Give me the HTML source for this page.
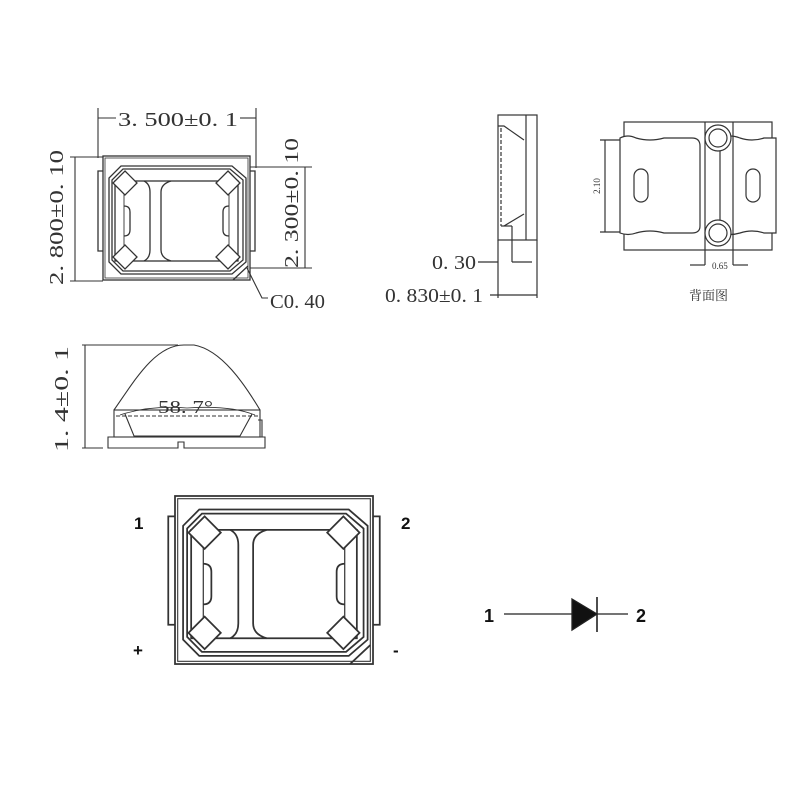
<!DOCTYPE html>
<html><head><meta charset="utf-8"><style>
html,body{margin:0;padding:0;background:#fff;}
svg{display:block}
text{font-family:"Liberation Serif","Noto Serif CJK SC",serif;fill:#333}
.s{font-family:"Liberation Sans",sans-serif;font-weight:bold;fill:#111}
</style></head><body>
<svg width="800" height="800" viewBox="0 0 800 800" xmlns="http://www.w3.org/2000/svg">
<defs>
<g id="pkg" fill="none" stroke="#333" stroke-width="1.3">
  <rect x="0" y="0" width="147" height="124"/>
  <rect x="2" y="2" width="143" height="120" stroke-width="0.8"/>
  <polyline points="0,15 -5,15 -5,95 0,95"/>
  <polyline points="147,15 152,15 152,95 147,95"/>
  <polygon points="18,10 129,10 143,22 143,106 129,118 18,118 6,106 6,22"/>
  <polygon points="20,13 127,13 140,24 140,104 127,115 20,115 9,104 9,24"/>
  <rect x="12" y="25" width="123" height="80"/>
  <line x1="21" y1="28" x2="21" y2="100" stroke-width="0.9"/>
  <line x1="126" y1="28" x2="126" y2="100" stroke-width="0.9"/>
  <g fill="#fff">
    <polygon points="22,15 34,27 22,39 10,27"/>
    <polygon points="125,15 137,27 125,39 113,27"/>
    <polygon points="22,89 34,101 22,113 10,101"/>
    <polygon points="125,89 137,101 125,113 113,101"/>
  </g>
  <path d="M41,25 Q47,28 47,36 L47,94 Q47,102 41,105"/>
  <path d="M68,25 Q58,28 58,36 L58,94 Q58,102 68,105"/>
  <path d="M21,50 Q27,50 27,56 L27,74 Q27,80 21,80"/>
  <path d="M126,50 Q120,50 120,56 L120,74 Q120,80 126,80"/>
  <line x1="130" y1="124" x2="145" y2="110"/>
</g>
</defs>

<use href="#pkg" x="103" y="156"/>
<g stroke="#333" stroke-width="1.1" fill="none">
  <line x1="98" y1="108" x2="98" y2="158"/>
  <line x1="256" y1="108" x2="256" y2="168"/>
  <line x1="98" y1="118" x2="116" y2="118"/>
  <line x1="240" y1="118" x2="256" y2="118"/>
  <line x1="70" y1="157" x2="103" y2="157"/>
  <line x1="70" y1="281" x2="103" y2="281"/>
  <line x1="75" y1="157" x2="75" y2="281"/>
  <line x1="250" y1="167" x2="312" y2="167"/>
  <line x1="250" y1="268" x2="312" y2="268"/>
  <line x1="305" y1="167" x2="305" y2="268"/>
  <polyline points="247,268 262,298 268,298"/>
</g>
<text x="118" y="126" font-size="20" textLength="120" lengthAdjust="spacingAndGlyphs">3. 500±0. 1</text>
<text transform="translate(63,285) rotate(-90)" font-size="20" textLength="135" lengthAdjust="spacingAndGlyphs">2. 800±0. 10</text>
<text transform="translate(298,268) rotate(-90)" font-size="20" textLength="130" lengthAdjust="spacingAndGlyphs">2. 300±0. 10</text>
<text x="270" y="308" font-size="20" textLength="55" lengthAdjust="spacingAndGlyphs">C0. 40</text>

<g stroke="#333" stroke-width="1.2" fill="none">
  <rect x="498" y="115" width="39" height="125"/>
  <line x1="526" y1="115" x2="526" y2="240"/>
  <polyline points="498,126 504,126 524,140"/>
  <polyline points="504,226 524,214"/>
  <line x1="501" y1="128" x2="501" y2="226" stroke-dasharray="4,2"/>
  <line x1="501" y1="226" x2="512" y2="226"/>
  <line x1="512" y1="226" x2="512" y2="262"/>
  <line x1="498" y1="240" x2="498" y2="298"/>
  <line x1="537" y1="240" x2="537" y2="298"/>
  <line x1="478" y1="262" x2="498" y2="262"/>
  <line x1="512" y1="262" x2="532" y2="262"/>
  <line x1="490" y1="295" x2="537" y2="295"/>
</g>
<text x="432" y="269" font-size="20" textLength="44" lengthAdjust="spacingAndGlyphs">0. 30</text>
<text x="385" y="302" font-size="20" textLength="98" lengthAdjust="spacingAndGlyphs">0. 830±0. 1</text>

<g stroke="#333" stroke-width="1.2" fill="none">
  <rect x="624" y="122" width="148" height="128"/>
  <path d="M620,138 Q628,134 636,138 Q650,142 664,138 L692,138 Q700,138 700,146 L700,226 Q700,233 692,233 L664,233 Q650,229 636,233 Q628,236 620,233 Z" fill="#fff"/>
  <path d="M720,138 Q730,134 740,138 Q752,142 764,138 L776,138 L776,233 L764,233 Q752,229 740,233 Q730,236 720,233 Z" fill="#fff"/>
  <line x1="705" y1="122" x2="705" y2="265"/>
  <line x1="733" y1="122" x2="733" y2="265"/>
  <circle cx="718" cy="138" r="13" fill="#fff"/><circle cx="718" cy="138" r="9"/>
  <circle cx="718" cy="233" r="13" fill="#fff"/><circle cx="718" cy="233" r="9"/>
  <rect x="634" y="169" width="14" height="33" rx="7"/>
  <rect x="746" y="169" width="14" height="33" rx="7"/>
  <line x1="605" y1="140" x2="605" y2="232"/>
  <line x1="600" y1="140" x2="620" y2="140"/>
  <line x1="600" y1="232" x2="620" y2="232"/>
  <line x1="690" y1="265" x2="705" y2="265"/>
  <line x1="733" y1="265" x2="748" y2="265"/>
</g>
<text transform="translate(600,186) rotate(-90)" font-size="9" text-anchor="middle">2.10</text>
<text x="712" y="269" font-size="9">0.65</text>
<text x="689" y="300" font-size="13" fill="#555">背面图</text>

<g stroke="#333" stroke-width="1.1" fill="none">
  <line x1="82" y1="345" x2="178" y2="345"/>
  <line x1="85" y1="345" x2="85" y2="448"/>
  <line x1="82" y1="448" x2="103" y2="448"/>
  <path d="M114,410 C135,380 155,345 184,345 L194,345 C222,350 245,385 260,410"/>
  <rect x="114" y="410" width="146" height="27"/>
  <path d="M125,414 L134,436 L240,436 L252,414" />
  <line x1="116" y1="416" x2="258" y2="416" stroke-dasharray="4,2"/>
  <path d="M120,415 Q150,405 187,408 Q230,405 255,415" stroke-width="0.8"/>
  <polyline points="258,420 262,420 262,437"/>
  <path d="M108,437 L265,437 L265,448 L184,448 L184,442 L178,442 L178,448 L108,448 Z"/>
</g>
<text transform="translate(68,452) rotate(-90)" font-size="20" textLength="106" lengthAdjust="spacingAndGlyphs">1. 4±0. 1</text>
<text x="158" y="413" font-size="18" textLength="55" lengthAdjust="spacingAndGlyphs">58. 7°</text>

<use href="#pkg" transform="translate(175,496) scale(1.347,1.355)"/>
<text class="s" x="134" y="529" font-size="17">1</text>
<text class="s" x="401" y="529" font-size="17">2</text>
<text class="s" x="133" y="656" font-size="17">+</text>
<text class="s" x="393" y="656" font-size="17">-</text>

<g stroke="#222" stroke-width="1.3">
  <line x1="504" y1="614" x2="572" y2="614"/>
  <polygon points="572,599 597,614 572,630" fill="#111"/>
  <line x1="597" y1="597" x2="597" y2="632" stroke-width="1.6"/>
  <line x1="597" y1="614" x2="628" y2="614"/>
</g>
<text class="s" x="484" y="622" font-size="18">1</text>
<text class="s" x="636" y="622" font-size="18">2</text>
</svg>
</body></html>
